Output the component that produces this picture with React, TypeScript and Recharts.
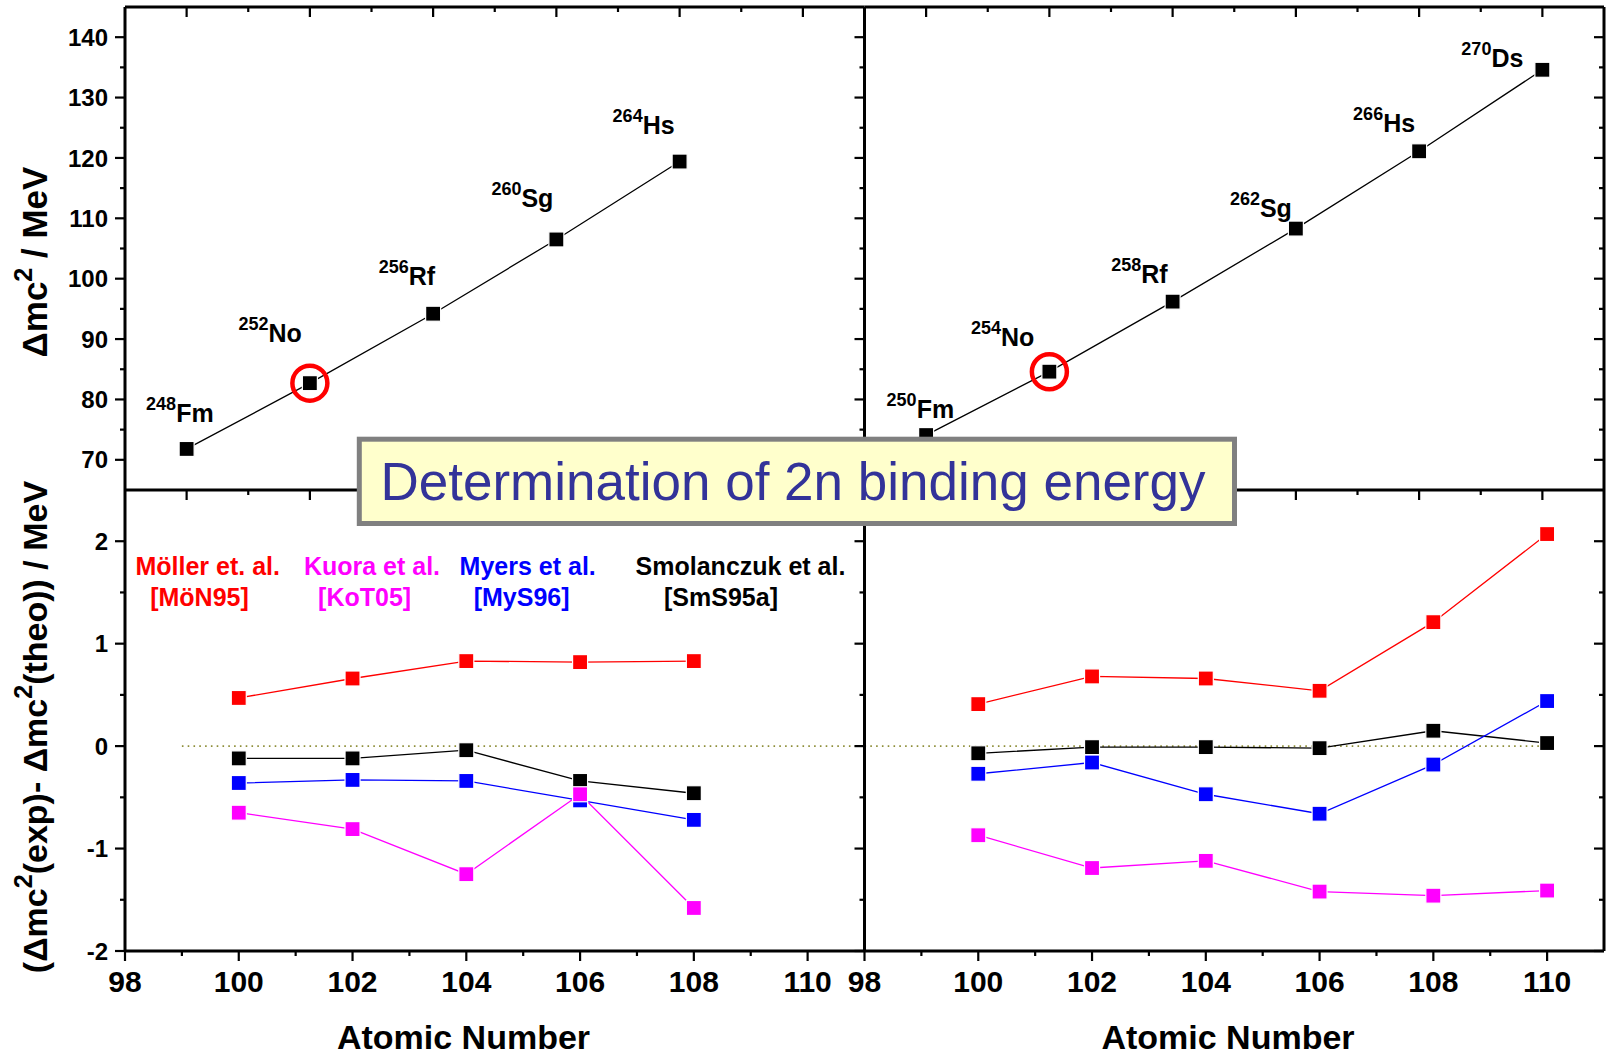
import React from 'react';
import { LineChart, Line, XAxis, YAxis, ReferenceLine, ReferenceDot } from 'recharts';

const W = 1608;
const H = 1055;
const FONT = "'Liberation Sans', Arial, Helvetica, sans-serif";

// ---------- data ----------
const topLeftZ = [100, 102, 104, 106, 108];
const topLeftDm = [71.8, 82.7, 94.2, 106.5, 119.4];
const topLeftMass = ['248', '252', '256', '260', '264'];
const topLeftElem = ['Fm', 'No', 'Rf', 'Sg', 'Hs'];

const topRightZ = [100, 102, 104, 106, 108, 110];
const topRightDm = [74.1, 84.6, 96.2, 108.3, 121.1, 134.6];
const topRightMass = ['250', '254', '258', '262', '266', '270'];
const topRightElem = ['Fm', 'No', 'Rf', 'Sg', 'Hs', 'Ds'];

const bottomLeftZ = [100, 102, 104, 106, 108];
const mollerLeft = [0.47, 0.66, 0.83, 0.82, 0.83];
const kuoraLeft = [-0.65, -0.81, -1.25, -0.47, -1.58];
const myersLeft = [-0.36, -0.33, -0.34, -0.53, -0.72];
const smolLeft = [-0.12, -0.12, -0.04, -0.34, -0.46];

const bottomRightZ = [100, 102, 104, 106, 108, 110];
const mollerRight = [0.41, 0.68, 0.66, 0.54, 1.21, 2.07];
const kuoraRight = [-0.87, -1.19, -1.12, -1.42, -1.46, -1.41];
const myersRight = [-0.27, -0.16, -0.47, -0.66, -0.18, 0.44];
const smolRight = [-0.07, -0.01, -0.01, -0.02, 0.15, 0.03];

const seriesNames = ['Möller et. al.', 'Kuora et al.', 'Myers et al.', 'Smolanczuk et al.'];
const seriesRefs = ['[MöN95]', '[KoT05]', '[MyS96]', '[SmS95a]'];

const bottomXTicks = [98, 99, 100, 101, 102, 103, 104, 105, 106, 107, 108, 109, 110];
const topXTicks = [100, 101, 102, 103, 104, 105, 106, 107, 108, 109, 110];
const topYTicks = [70, 75, 80, 85, 90, 95, 100, 105, 110, 115, 120, 125, 130, 135, 140];
const bottomYTicks = [-2, -1.5, -1, -0.5, 0, 0.5, 1, 1.5, 2];

// ---------- styling / layout ----------
const COLORS = { moller: '#FF0000', kuora: '#FF00FF', myers: '#0000FF', smol: '#000000' };
const seriesColors = [COLORS.moller, COLORS.kuora, COLORS.myers, COLORS.smol];

type R = { x0: number; x1: number; y0: number; y1: number };
const TL: R = { x0: 125, x1: 864.5, y0: 7, y1: 490 };
const TR: R = { x0: 864.5, x1: 1604, y0: 7, y1: 490 };
const BL: R = { x0: 125, x1: 864.5, y0: 490, y1: 951 };
const BR: R = { x0: 864.5, x1: 1604, y0: 490, y1: 951 };
// every axis is given a 1px size (0 would not be drawn)
const marginOf = (r: R, hasTop: boolean) => ({
  left: r.x0 - 1,
  right: W - r.x1 - 1,
  top: hasTop ? r.y0 - 1 : r.y0,
  bottom: H - r.y1 - 1,
});

const axisStyle = { stroke: '#000', strokeWidth: 3 };

const labelOffsetsLeft = [[27, -27], [-8, -41], [2, -29], [-3, -32], [-5, -28]];
const labelOffsetsRight = [[28, -17], [-15, -26], [-5, -19], [-4, -12], [-4, -19], [-19, -3]];

type Side = 'bottom' | 'top' | 'left' | 'right';
const even = (v: number) => Math.abs(v % 2) < 1e-9;
const mult10 = (v: number) => Math.abs(v % 10) < 1e-9;
const isInt = (v: number) => Math.abs(v - Math.round(v)) < 1e-9;

function makeTick(side: Side, inward: boolean, isMajor: (v: number) => boolean, label?: { fontSize: number; gap: number }) {
  const dir = { bottom: [0, 1], top: [0, -1], left: [-1, 0], right: [1, 0] }[side];
  const s = inward ? -1 : 1;
  return (props: any) => {
    const { x, y, payload, index } = props;
    const v = Number(payload.value);
    const major = isMajor(v);
    const len = major ? 10 : 5;
    const x2 = x + dir[0] * len * s;
    const y2 = y + dir[1] * len * s;
    let txt: any = null;
    if (label && major) {
      if (side === 'bottom') {
        txt = (
          <text x={x} y={y + label.gap} textAnchor="middle" fontSize={label.fontSize} fontWeight="bold" fontFamily={FONT} fill="#000">
            {String(v)}
          </text>
        );
      } else if (side === 'left') {
        txt = (
          <text x={x - label.gap} y={y} dy="0.36em" textAnchor="end" fontSize={label.fontSize} fontWeight="bold" fontFamily={FONT} fill="#000">
            {String(v)}
          </text>
        );
      }
    }
    return (
      <g key={`tk-${side}-${index}`}>
        <line x1={x} y1={y} x2={x2} y2={y2} stroke="#000" strokeWidth={2.2} />
        {txt}
      </g>
    );
  };
}

function squareDot(color: string, size: number) {
  return (props: any) => {
    const { cx, cy, index } = props;
    if (cx == null || cy == null) return <g key={`e${index}`} />;
    return (
      <rect key={`sq${index}`} x={cx - size / 2} y={cy - size / 2} width={size} height={size} fill={color} stroke="#fff" strokeWidth={1.2} />
    );
  };
}

function labeledDot(mass: string[], elem: string[], offsets: number[][]) {
  return (props: any) => {
    const { cx, cy, index } = props;
    if (cx == null || cy == null) return <g key={`e${index}`} />;
    const [dx, dy] = offsets[index];
    return (
      <g key={`ld${index}`}>
        <rect x={cx - 7.5} y={cy - 7.5} width={15} height={15} fill="#000" stroke="#fff" strokeWidth={1.2} />
        <text x={cx + dx} y={cy + dy} textAnchor="end" fontWeight="bold" fontFamily={FONT} fill="#000">
          <tspan fontSize={18} dy={-12}>{mass[index]}</tspan>
          <tspan fontSize={25} dy={12}>{elem[index]}</tspan>
        </text>
      </g>
    );
  };
}

const abs: React.CSSProperties = { position: 'absolute', left: 0, top: 0 };

function TopPanel({ rect, z, dm, mass, elem, offsets, leftLabels }: any) {
  const data = z.map((zz: number, i: number) => ({ z: zz, dm: dm[i] }));
  return (
    <div style={abs}>
      <LineChart width={W} height={H} data={data} margin={marginOf(rect, true)}>
        <XAxis xAxisId="b" type="number" dataKey="z" domain={[99, 111]} ticks={topXTicks} orientation="bottom" height={1}
          tickSize={0} tickMargin={0} tickLine={false} interval={0} allowDataOverflow axisLine={axisStyle}
          tick={makeTick('bottom', false, even)} />
        <XAxis xAxisId="t" type="number" dataKey="z" domain={[99, 111]} ticks={topXTicks} orientation="top" height={1}
          tickSize={0} tickMargin={0} tickLine={false} interval={0} allowDataOverflow axisLine={axisStyle}
          tick={makeTick('top', true, even)} />
        <YAxis yAxisId="l" type="number" domain={[65, 145]} ticks={topYTicks} orientation="left" width={1}
          tickSize={0} tickMargin={0} tickLine={false} interval={0} allowDataOverflow axisLine={axisStyle}
          tick={makeTick('left', false, mult10, leftLabels ? { fontSize: 24, gap: 17 } : undefined)} />
        <YAxis yAxisId="r" type="number" domain={[65, 145]} ticks={topYTicks} orientation="right" width={1}
          tickSize={0} tickMargin={0} tickLine={false} interval={0} allowDataOverflow axisLine={axisStyle}
          tick={leftLabels ? false : makeTick('right', true, mult10)} />
        <Line xAxisId="b" yAxisId="l" type="linear" dataKey="dm" stroke="#000" strokeWidth={1.3}
          dot={labeledDot(mass, elem, offsets)} activeDot={false} isAnimationActive={false} />
        <ReferenceDot xAxisId="b" yAxisId="l" x={z[1]} y={dm[1]} r={17.5} fill="none" stroke="#FF0000" strokeWidth={4.5} ifOverflow="visible" />
      </LineChart>
    </div>
  );
}

function BottomPanel({ rect, z, series, leftLabels, zeroFrom, zeroTo }: any) {
  const data = z.map((zz: number, i: number) => ({
    z: zz, moller: series[0][i], kuora: series[1][i], myers: series[2][i], smol: series[3][i],
  }));
  const order: [string, string][] = [['moller', COLORS.moller], ['smol', COLORS.smol], ['myers', COLORS.myers], ['kuora', COLORS.kuora]];
  return (
    <div style={abs}>
      <LineChart width={W} height={H} data={data} margin={marginOf(rect, false)}>
        <XAxis xAxisId="b" type="number" dataKey="z" domain={[98, 111]} ticks={bottomXTicks} orientation="bottom" height={1}
          tickSize={0} tickMargin={0} tickLine={false} interval={0} allowDataOverflow axisLine={axisStyle}
          tick={makeTick('bottom', false, even, { fontSize: 30, gap: 41 })} />
        <YAxis yAxisId="l" type="number" domain={[-2, 2.5]} ticks={bottomYTicks} orientation="left" width={1}
          tickSize={0} tickMargin={0} tickLine={false} interval={0} allowDataOverflow axisLine={axisStyle}
          tick={makeTick('left', false, isInt, leftLabels ? { fontSize: 24, gap: 17 } : undefined)} />
        <YAxis yAxisId="r" type="number" domain={[-2, 2.5]} ticks={bottomYTicks} orientation="right" width={1}
          tickSize={0} tickMargin={0} tickLine={false} interval={0} allowDataOverflow axisLine={axisStyle}
          tick={leftLabels ? false : makeTick('right', true, isInt)} />
        <ReferenceLine xAxisId="b" yAxisId="l" segment={[{ x: zeroFrom, y: 0 }, { x: zeroTo, y: 0 }]}
          stroke="#8f8f3a" strokeWidth={1.6} strokeDasharray="1.6 4.2" ifOverflow="visible" />
        {order.map(([key, color]) => (
          <Line key={key} xAxisId="b" yAxisId="l" type="linear" dataKey={key} stroke={color} strokeWidth={1.3}
            dot={squareDot(color, 15)} activeDot={false} isAnimationActive={false} />
        ))}
      </LineChart>
    </div>
  );
}

const legendPos = [
  { x: 207.7, x2: 199.5 },
  { x: 372, x2: 364.6 },
  { x: 527.7, x2: 521.6 },
  { x: 740.5, x2: 721 },
];

function Overlay() {
  return (
    <svg width={W} height={H} style={{ ...abs, pointerEvents: 'none' }}>
      {seriesNames.map((n, i) => (
        <g key={n}>
          <text x={legendPos[i].x} y={575} textAnchor="middle" fontSize={25} fontWeight="bold" fontFamily={FONT} fill={seriesColors[i]}>{n}</text>
          <text x={legendPos[i].x2} y={606} textAnchor="middle" fontSize={25} fontWeight="bold" fontFamily={FONT} fill={seriesColors[i]}>{seriesRefs[i]}</text>
        </g>
      ))}
      <text transform="translate(47,262) rotate(-90)" textAnchor="middle" fontSize={35} fontWeight="bold" fontFamily={FONT} fill="#000">
        Δmc<tspan fontSize={25} dy={-15}>2</tspan><tspan dy={15}> / MeV</tspan>
      </text>
      <text transform="translate(47,727) rotate(-90)" textAnchor="middle" fontSize={34} fontWeight="bold" fontFamily={FONT} fill="#000">
        (Δmc<tspan fontSize={25} dy={-15}>2</tspan><tspan dy={15}>(exp)- Δmc</tspan><tspan fontSize={25} dy={-15}>2</tspan><tspan dy={15}>(theo)) / MeV</tspan>
      </text>
      <text x={463.5} y={1049} textAnchor="middle" fontSize={34} fontWeight="bold" fontFamily={FONT} fill="#000">Atomic Number</text>
      <text x={1228} y={1049} textAnchor="middle" fontSize={34} fontWeight="bold" fontFamily={FONT} fill="#000">Atomic Number</text>
      <rect x={359.3} y={439.2} width={875.2} height={84.3} fill="#FFFFCC" stroke="#808080" strokeWidth={5} />
      <text x={793} y={500} textAnchor="middle" fontSize={53} fontFamily={FONT} fill="#333399">Determination of 2n binding energy</text>
    </svg>
  );
}

export default function App() {
  return (
    <div style={{ position: 'absolute', left: 0, top: 0, width: W, height: H, background: '#fff', overflow: 'hidden' }}>
      <TopPanel rect={TL} z={topLeftZ} dm={topLeftDm} mass={topLeftMass} elem={topLeftElem} offsets={labelOffsetsLeft} leftLabels />
      <TopPanel rect={TR} z={topRightZ} dm={topRightDm} mass={topRightMass} elem={topRightElem} offsets={labelOffsetsRight} leftLabels={false} />
      <BottomPanel rect={BL} z={bottomLeftZ} series={[mollerLeft, kuoraLeft, myersLeft, smolLeft]} leftLabels zeroFrom={99} zeroTo={111} />
      <BottomPanel rect={BR} z={bottomRightZ} series={[mollerRight, kuoraRight, myersRight, smolRight]} leftLabels={false} zeroFrom={98} zeroTo={110} />
      <Overlay />
    </div>
  );
}
